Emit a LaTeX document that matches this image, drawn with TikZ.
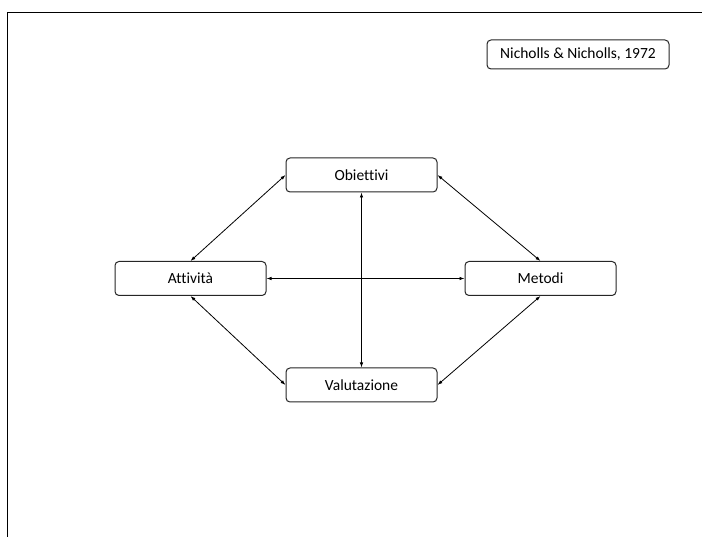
\documentclass[tikz,border=0pt]{standalone}
\usepackage{fontspec}
\setmainfont{Carlito}[Ligatures={NoCommon}]
\usetikzlibrary{arrows.meta}
\begin{document}
\begin{tikzpicture}[x=1pt,y=-1pt,
  box/.style={draw=black!85,line width=1pt,rounded corners=4pt,fill=white,
    minimum width=151pt,minimum height=34pt,inner sep=0pt,font=\fontsize{15.5}{18}\selectfont},
  conn/.style={line width=0.8pt,{Latex[length=5pt,width=3.5pt]}-{Latex[length=5pt,width=3.5pt]}}]
\useasboundingbox (0,0) rectangle (702,537);
\draw[line width=1.1pt] (7.5,537) -- (7.5,12.5) -- (702,12.5);
\node[box,minimum width=182pt,minimum height=29pt] (ref) at (578,54.5) {Nicholls \& Nicholls, 1972};
\node[box] (ob) at (361.5,175) {Obiettivi};
\node[box] (at) at (190.5,278.5) {Attività};
\node[box] (me) at (540.5,278.5) {Metodi};
\node[box] (va) at (361.5,385) {Valutazione};
\draw[conn] (ob.west) -- (at.north);
\draw[conn] (ob.east) -- (me.north);
\draw[conn] (at.south) -- (va.west);
\draw[conn] (me.south) -- (va.east);
\draw[conn] (ob.south) -- (va.north);
\draw[conn] (at.east) -- (me.west);
\end{tikzpicture}
\end{document}
